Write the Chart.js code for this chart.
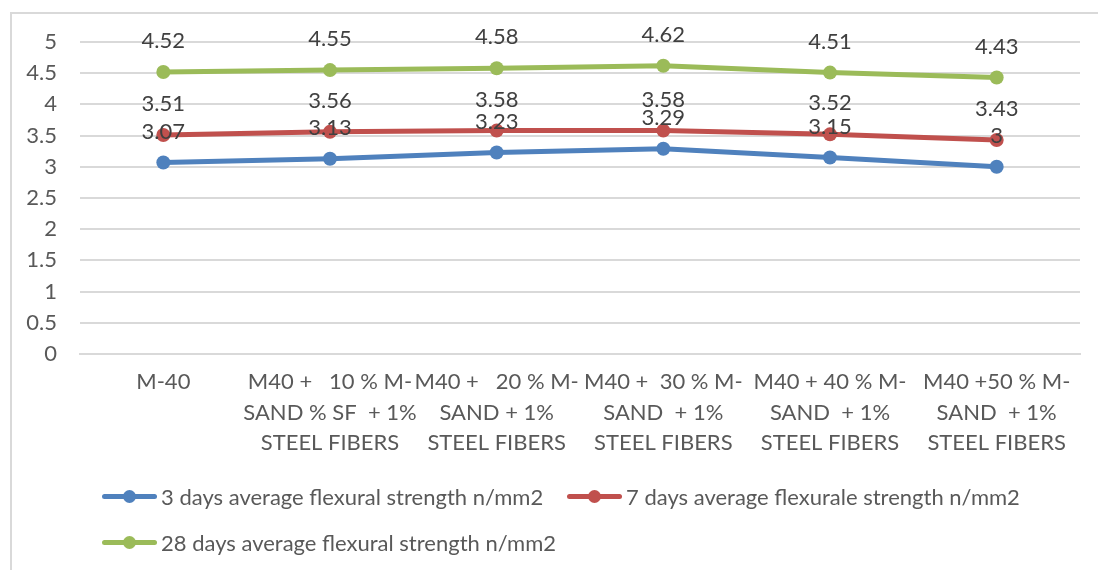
<!DOCTYPE html>
<html>
<head>
<meta charset="utf-8">
<script src="https://cdn.jsdelivr.net/npm/chart.js@4"></script>
<style>
  body { margin: 0; background: #fff; }
  #wrap { position: relative; width: 1098px; height: 570px; overflow: hidden; font-family: Lato, 'Liberation Sans', sans-serif; }
  #frame { position: absolute; left: 10px; top: 12px; right: -10px; bottom: -10px; border-left: 2px solid #D9D9D9; border-top: 2px solid #D9D9D9; }
  #chart { position: absolute; left: 0; top: 0; }
  .leg { position: absolute; display: flex; align-items: center; font-size: 22px; color: #595959; white-space: nowrap; }
  .leg .mk { position: relative; width: 55px; height: 5px; border-radius: 3px; margin-right: 4px; }
  .leg .mk i { position: absolute; left: 21px; top: -4px; width: 13px; height: 13px; border-radius: 50%; background: inherit; }
</style>
</head>
<body>
<div id="wrap">
  <div id="frame"></div>
  <canvas id="chart" width="1098" height="570"></canvas>
  <div id="legend"></div>
</div>
<script>
// categories (x axis, multi-line as in the original)
const categories = [
    ['M-40'],
    ['M40 +   10 % M-', 'SAND % SF  + 1%', 'STEEL FIBERS'],
    ['M40 +   20 % M-', 'SAND + 1%', 'STEEL FIBERS'],
    ['M40 +  30 % M-', 'SAND  + 1%', 'STEEL FIBERS'],
    ['M40 + 40 % M-', 'SAND  + 1%', 'STEEL FIBERS'],
    ['M40 +50 % M-', 'SAND  + 1%', 'STEEL FIBERS']
];

const seriesNames = [
    '3 days average flexural strength n/mm2',
    '7 days average flexurale strength n/mm2',
    '28 days average flexural strength n/mm2'
];

const days3 = [3.07, 3.13, 3.23, 3.29, 3.15, 3];
const days7 = [3.51, 3.56, 3.58, 3.58, 3.52, 3.43];
const days28 = [4.52, 4.55, 4.58, 4.62, 4.51, 4.43];

const seriesColors = ['#4F81BD', '#C0504D', '#9BBB59'];

const yMin = 0, yMax = 5, yStep = 0.5;

const FONT = 'Lato, "Liberation Sans", sans-serif';

// value labels above each point
const valueLabels = {
    id: 'valueLabels',
    afterDatasetsDraw(chart) {
        const ctx = chart.ctx;
        ctx.save();
        ctx.font = '22px ' + FONT;
        ctx.fillStyle = '#404040';
        ctx.textAlign = 'center';
        ctx.textBaseline = 'middle';
        chart.data.datasets.forEach((ds, i) => {
            chart.getDatasetMeta(i).data.forEach((pt, j) => {
                ctx.fillText(String(ds.data[j]), pt.x, pt.y - 31);
            });
        });
        ctx.restore();
    }
};

const allSeries = [days3, days7, days28];

new Chart(document.getElementById('chart'), {
    type: 'line',
    data: {
        labels: categories,
        datasets: allSeries.map((d, i) => ({
            label: seriesNames[i],
            data: d,
            borderColor: seriesColors[i],
            backgroundColor: seriesColors[i],
            pointBackgroundColor: seriesColors[i],
            pointBorderColor: seriesColors[i],
            borderWidth: 5,
            pointRadius: 7,
            pointBorderWidth: 0,
            tension: 0,
            fill: false
        }))
    },
    options: {
        responsive: false,
        animation: false,
        devicePixelRatio: 1,
        layout: { padding: { left: 0, top: 42, right: 18, bottom: 116 } },
        plugins: {
            legend: { display: false },
            tooltip: { enabled: false }
        },
        scales: {
            x: {
                offset: true,
                grid: { display: false, drawTicks: false },
                border: { display: true, color: '#D9D9D9', width: 2 },
                ticks: {
                    autoSkip: false,
                    maxRotation: 0,
                    minRotation: 0,
                    padding: 13,
                    color: '#595959',
                    font: { family: FONT, size: 22, lineHeight: 1.38 }
                },
                afterFit(scale) { scale.height = 100; }
            },
            y: {
                min: yMin,
                max: yMax,
                ticks: {
                    stepSize: yStep,
                    padding: 23,
                    color: '#595959',
                    font: { family: FONT, size: 22 },
                    callback: v => String(+v.toFixed(1))
                },
                grid: { color: '#D9D9D9', lineWidth: 2, drawTicks: false },
                border: { display: false },
                afterFit(scale) { scale.width = 80; }
            }
        }
    },
    plugins: [valueLabels]
});

// legend, laid out in two rows like the original
const legendPos = [[102, 496], [567, 496], [102, 542]];
const legend = document.getElementById('legend');
seriesNames.forEach((name, i) => {
    const el = document.createElement('div');
    el.className = 'leg';
    el.style.left = legendPos[i][0] + 'px';
    el.style.top = (legendPos[i][1] - 15) + 'px';
    el.style.height = '30px';
    el.innerHTML = '<span class="mk" style="background:' + seriesColors[i] + '"><i></i></span><span>' + name + '</span>';
    legend.appendChild(el);
});
</script>
</body>
</html>
